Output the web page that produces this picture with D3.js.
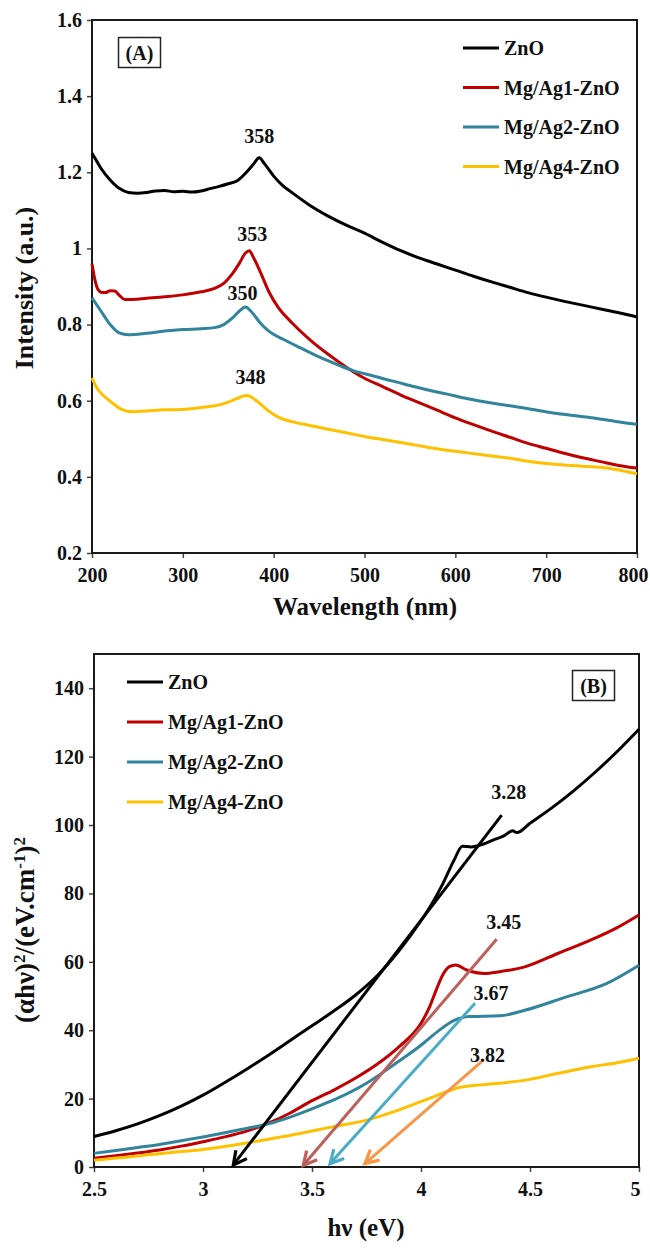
<!DOCTYPE html>
<html>
<head>
<meta charset="utf-8">
<script src="https://cdn.jsdelivr.net/npm/d3@7"></script>
<style>
  html, body { margin: 0; padding: 0; background: #fff; }
  svg { display: block; }
  svg text { font-family: "Liberation Serif", "Times New Roman", serif; font-weight: bold; }
</style>
</head>
<body>
<svg id="chart" width="650" height="1248"></svg>
<script>
// ---------- Panel A: UV-vis absorbance spectra ----------
const seriesNames = ["ZnO", "Mg/Ag1-ZnO", "Mg/Ag2-ZnO", "Mg/Ag4-ZnO"];

const absZnO = [[200,1.25],[205,1.23],[210,1.21],[220,1.18],[230,1.158],[240,1.147],[250,1.145],[260,1.147],[270,1.151],[280,1.152],[290,1.149],[300,1.15],[310,1.148],[320,1.151],[330,1.157],[340,1.163],[350,1.17],[360,1.178],[370,1.2],[378,1.222],[384,1.238],[390,1.222],[400,1.19],[410,1.165],[420,1.147],[440,1.113],[460,1.085],[480,1.061],[500,1.04],[520,1.016],[540,0.994],[560,0.975],[580,0.959],[600,0.943],[620,0.927],[640,0.912],[660,0.898],[680,0.884],[700,0.872],[720,0.861],[740,0.851],[760,0.841],[780,0.831],[800,0.82]];
const absAg1 = [[200,0.96],[203,0.92],[206,0.895],[210,0.885],[215,0.884],[220,0.889],[225,0.888],[230,0.877],[236,0.866],[245,0.866],[260,0.869],[280,0.873],[300,0.878],[320,0.886],[335,0.895],[345,0.908],[355,0.935],[362,0.96],[369,0.988],[373,0.994],[378,0.975],[385,0.94],[395,0.885],[405,0.845],[420,0.805],[440,0.76],[460,0.722],[480,0.688],[500,0.659],[520,0.637],[540,0.615],[560,0.595],[580,0.575],[600,0.555],[620,0.537],[640,0.52],[660,0.504],[680,0.488],[700,0.475],[720,0.462],[740,0.45],[760,0.44],[780,0.43],[800,0.423]];
const absAg2 = [[200,0.87],[210,0.835],[220,0.8],[230,0.778],[240,0.773],[260,0.777],[280,0.783],[300,0.787],[320,0.789],[335,0.792],[345,0.8],[355,0.818],[362,0.835],[369,0.846],[375,0.835],[385,0.805],[395,0.782],[410,0.762],[430,0.738],[450,0.715],[470,0.695],[490,0.677],[510,0.665],[530,0.652],[550,0.64],[570,0.628],[590,0.618],[610,0.607],[630,0.598],[650,0.59],[670,0.583],[690,0.575],[710,0.567],[730,0.561],[750,0.555],[770,0.548],[790,0.541],[800,0.538]];
const absAg4 = [[200,0.66],[205,0.635],[212,0.615],[222,0.595],[232,0.578],[245,0.571],[260,0.573],[280,0.576],[300,0.577],[320,0.582],[340,0.589],[355,0.601],[363,0.609],[370,0.614],[375,0.61],[385,0.592],[395,0.572],[405,0.557],[420,0.545],[440,0.535],[460,0.525],[480,0.516],[500,0.506],[520,0.498],[540,0.49],[560,0.482],[580,0.474],[600,0.467],[620,0.461],[640,0.455],[660,0.449],[680,0.441],[700,0.435],[720,0.431],[740,0.428],[760,0.425],[775,0.42],[790,0.413],[800,0.408]];
const peakLabels = ["358", "353", "350", "348"];
const wavelengthTicks = [200, 300, 400, 500, 600, 700, 800];
const intensityTicks = [0.2, 0.4, 0.6, 0.8, 1.0, 1.2, 1.4, 1.6];

// ---------- Panel B: Tauc plots ----------
const taucZnO = [[2.5,8.9],[2.6,10.6],[2.7,12.6],[2.8,15],[2.9,17.8],[3.0,21],[3.1,24.7],[3.2,28.6],[3.3,32.7],[3.4,37],[3.5,41.3],[3.6,45.6],[3.7,50.3],[3.8,56],[3.9,63.3],[4.0,72],[4.05,77],[4.1,82.8],[4.15,89.5],[4.19,93.8],[4.23,93.6],[4.28,94.3],[4.33,95.6],[4.38,96.8],[4.42,98.3],[4.44,97.8],[4.5,100.5],[4.6,105],[4.7,110],[4.8,115.5],[4.9,121.5],[5.0,128]];
const taucAg1 = [[2.5,2.6],[2.6,3.3],[2.7,4.1],[2.8,5],[2.9,6.1],[3.0,7.4],[3.1,8.8],[3.2,10.5],[3.3,12.8],[3.4,15.8],[3.5,19.4],[3.6,22.5],[3.7,26],[3.8,30.1],[3.9,35.2],[4.0,42],[4.04,46.9],[4.07,51.8],[4.1,56.2],[4.13,58.6],[4.16,59.1],[4.21,57.6],[4.29,56.6],[4.36,57.1],[4.48,58.6],[4.63,62.5],[4.78,66.4],[4.9,70],[5.0,73.7]];
const taucAg2 = [[2.5,4.0],[2.6,4.8],[2.7,5.7],[2.8,6.6],[2.9,7.7],[3.0,8.8],[3.1,10],[3.2,11.3],[3.3,12.6],[3.4,14.6],[3.5,17],[3.6,19.6],[3.75,24.5],[3.9,31],[4.0,35.6],[4.08,39.8],[4.15,42.8],[4.22,44],[4.36,44.2],[4.48,45.9],[4.66,49.6],[4.85,53.6],[5.0,59]];
const taucAg4 = [[2.5,2.0],[2.6,2.6],[2.7,3.2],[2.8,3.9],[2.9,4.5],[3.0,5.1],[3.1,6.0],[3.2,7.0],[3.3,8.1],[3.45,9.85],[3.6,11.8],[3.75,13.7],[3.9,16.7],[4.06,20.6],[4.18,23.3],[4.36,24.5],[4.48,25.4],[4.63,27.4],[4.78,29.3],[4.9,30.5],[5.0,31.8]];
const gapLabels = ["3.28", "3.45", "3.67", "3.82"];
const tangentFrom = [[4.37,102.9],[4.347,66.6],[4.248,47.9],[4.278,30.8]];
const tangentTo = [[3.139,0.6],[3.46,0.5],[3.583,1.0],[3.743,1.0]];
const energyTicks = [2.5, 3, 3.5, 4, 4.5, 5];
const taucTicks = [0, 20, 40, 60, 80, 100, 120, 140];

// ---------- styles ----------
const lineColors = ["#000000", "#c00000", "#31849b", "#ffc000"];
const arrowColors = ["#000000", "#bd605b", "#4bacc6", "#f79646"];
const peakLabelOffset = [[0, -15], [3, -10], [-3, -7], [4, -11]];
const gapLabelOffset = [[7, -16], [7, -10], [16, -3], [6, 0]];

const svg = d3.select("#chart");
svg.append("rect").attr("width", 650).attr("height", 1248).attr("fill", "#fff");

function drawFrame(g, x, y, xTicks, yTicks, xFmt, yFmt) {
  const [x0, x1] = x.range();
  const [y0, y1] = y.range();
  const xAxis = g.append("g").attr("transform", `translate(0,${y0})`)
    .call(d3.axisBottom(x).tickValues(xTicks).tickFormat(xFmt).tickSizeOuter(0).tickSize(5).tickPadding(10));
  const yAxis = g.append("g").attr("transform", `translate(${x0},0)`)
    .call(d3.axisLeft(y).tickValues(yTicks).tickFormat(yFmt).tickSizeOuter(0).tickSize(5).tickPadding(5));
  [xAxis, yAxis].forEach(a => {
    a.attr("font-family", null).attr("font-size", null);
    a.select(".domain").remove();
    a.selectAll(".tick line").attr("stroke", "#444").attr("stroke-width", 1.5);
    a.selectAll(".tick text").style("font-size", "20px").attr("fill", "#111");
  });
  // keep the last x label inside the page edge
  xAxis.selectAll(".tick text").filter(d => d === xTicks[xTicks.length - 1]).attr("dx", "-4");
  g.append("rect").attr("x", x0).attr("y", y1).attr("width", x1 - x0).attr("height", y0 - y1)
    .attr("fill", "none").attr("stroke", "#1a1a1a").attr("stroke-width", 2);
}

function label(g, x, y, text, size, anchor) {
  return g.append("text").attr("x", x).attr("y", y).attr("text-anchor", anchor || "start")
    .style("font-size", size + "px").attr("fill", "#111").text(text);
}

function drawLegend(g, lx, ly, gap) {
  seriesNames.forEach((name, i) => {
    const yy = ly + i * gap;
    g.append("line").attr("x1", lx).attr("x2", lx + 36).attr("y1", yy).attr("y2", yy)
      .attr("stroke", lineColors[i]).attr("stroke-width", 3);
    label(g, lx + 41, yy + 7, name, 20);
  });
}

function panelTag(g, cx, cy, text) {
  g.append("rect").attr("x", cx - 21).attr("y", cy - 15).attr("width", 42).attr("height", 30)
    .attr("fill", "#fff").attr("stroke", "#222").attr("stroke-width", 1.5);
  label(g, cx, cy + 7, text, 20, "middle");
}

// ===== Panel A =====
{
  const g = svg.append("g");
  const x = d3.scaleLinear().domain([200, 800]).range([92, 637]);
  const y = d3.scaleLinear().domain([0.2, 1.6]).range([553, 20]);
  drawFrame(g, x, y, wavelengthTicks, intensityTicks, d3.format("d"), d => d3.format("~g")(d));

  const line = d3.line().x(d => x(d[0])).y(d => y(d[1])).curve(d3.curveMonotoneX);
  const spectra = [absZnO, absAg1, absAg2, absAg4];
  spectra.forEach((s, i) => {
    g.append("path").datum(s).attr("d", line).attr("fill", "none")
      .attr("stroke", lineColors[i]).attr("stroke-width", 3).attr("stroke-linejoin", "round");
    const peak = s.filter(d => d[0] > 300).reduce((a, b) => (b[1] > a[1] ? b : a));
    label(g, x(peak[0]) + peakLabelOffset[i][0], y(peak[1]) + peakLabelOffset[i][1], peakLabels[i], 20, "middle");
  });

  drawLegend(g, 463, 48, 39.5);
  panelTag(g, 139.5, 52.5, "(A)");

  label(g, 365, 615, "Wavelength (nm)", 25, "middle");
  g.append("text").attr("transform", "translate(33,288) rotate(-90)").attr("text-anchor", "middle")
    .style("font-size", "26px").attr("fill", "#111").text("Intensity (a.u.)");
}

// ===== Panel B =====
{
  const g = svg.append("g");
  const x = d3.scaleLinear().domain([2.5, 5]).range([94, 639]);
  const y = d3.scaleLinear().domain([0, 150]).range([1167, 654]);
  drawFrame(g, x, y, energyTicks, taucTicks, d => d3.format("~g")(d), d3.format("d"));

  const line = d3.line().x(d => x(d[0])).y(d => y(d[1])).curve(d3.curveMonotoneX);
  const plots = [taucZnO, taucAg1, taucAg2, taucAg4];
  plots.forEach((s, i) => {
    g.append("path").datum(s).attr("d", line).attr("fill", "none")
      .attr("stroke", lineColors[i]).attr("stroke-width", 3).attr("stroke-linejoin", "round");
  });

  // extrapolated band-edge tangents with open arrowheads
  const armLen = 15, armAngle = Math.PI / 6.5;
  tangentFrom.forEach((f, i) => {
    const fx = x(f[0]), fy = y(f[1]);
    const tx = x(tangentTo[i][0]), ty = y(tangentTo[i][1]);
    const a = Math.atan2(fy - ty, fx - tx);
    const p1 = [tx + armLen * Math.cos(a + armAngle), ty + armLen * Math.sin(a + armAngle)];
    const p2 = [tx + armLen * Math.cos(a - armAngle), ty + armLen * Math.sin(a - armAngle)];
    g.append("line").attr("x1", fx).attr("y1", fy).attr("x2", tx).attr("y2", ty)
      .attr("stroke", arrowColors[i]).attr("stroke-width", 3);
    g.append("path").attr("d", `M${p1[0]},${p1[1]}L${tx},${ty}L${p2[0]},${p2[1]}`)
      .attr("fill", "none").attr("stroke", arrowColors[i]).attr("stroke-width", 3.2)
      .attr("stroke-linejoin", "miter");
    label(g, fx + gapLabelOffset[i][0], fy + gapLabelOffset[i][1], gapLabels[i], 20, "middle");
  });

  drawLegend(g, 127, 682, 40);
  panelTag(g, 593.5, 685.5, "(B)");

  label(g, 366, 1236, "hν (eV)", 25, "middle");
  const yl = g.append("text").attr("transform", "translate(34,930) rotate(-90)").attr("text-anchor", "middle")
    .style("font-size", "27px").attr("fill", "#111");
  yl.append("tspan").text("(αhν)");
  yl.append("tspan").attr("baseline-shift", "super").style("font-size", "17px").text("2");
  yl.append("tspan").text("/(eV.cm");
  yl.append("tspan").attr("baseline-shift", "super").style("font-size", "17px").text("-1");
  yl.append("tspan").text(")");
  yl.append("tspan").attr("baseline-shift", "super").style("font-size", "17px").text("2");
}
</script>
</body>
</html>
